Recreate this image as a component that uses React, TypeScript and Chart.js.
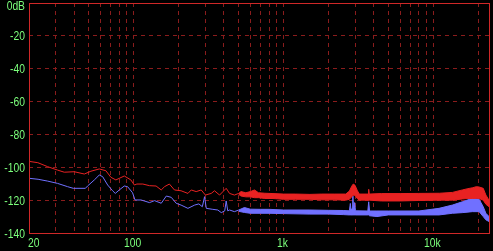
import React, { useEffect, useRef } from 'react';
import { Chart, registerables } from 'chart.js';

Chart.register(...registerables);

// ---- axis values ----
const xMin = 20;
const xMax = 23500;
const yMin = -140;
const yMax = 0;
const xGridValues = [30, 40, 50, 60, 70, 80, 90, 100, 200, 300, 400, 500, 600, 700, 800, 900, 1000, 2000, 3000, 4000, 5000, 6000, 7000, 8000, 9000, 10000, 20000];
const yTickValues = [0, -20, -40, -60, -80, -100, -120, -140];
const yTickLabels = ['0dB', '-20', '-40', '-60', '-80', '-100', '-120', '-140'];
const xLabelValues = [20, 100, 1000, 10000];
const xLabelTexts = ['20', '100', '1k', '10k'];

// ---- red trace: thin line part (Hz, dB) ----
const redLineFreq = [20, 22.9, 26.6, 31, 34.4, 40.1, 46.8, 51.8, 58.9, 65.2, 70.4, 76, 86.5, 95.7, 101, 105, 115, 127.5, 141, 152.6, 160.6, 173, 187, 207, 230, 242, 261, 282, 301, 329, 346, 374, 414, 436, 470, 502];
const redLine = [-96.4, -97.2, -99.6, -101.7, -103.0, -102.7, -104.1, -102.4, -101.0, -102.1, -106.1, -107.7, -105.3, -107.7, -110.8, -110.2, -110.2, -111.2, -111.4, -113.8, -111.8, -110.2, -113.8, -114.3, -115.9, -113.8, -114.8, -113.8, -116.9, -115.9, -114.3, -116.9, -112.8, -115.9, -116.9, -115.9];

// ---- red trace: dense noise band (Hz, upper dB, lower dB) ----
const redBandFreq = [502, 520, 560, 600, 640, 680, 750, 850, 1000, 1200, 1500, 1800, 2200, 2600, 2750, 2850, 2920, 3000, 3100, 3200, 3670, 3700, 3730, 4500, 6000, 8000, 11000, 13400, 15600, 17000, 18200, 19350, 20200, 21500, 22400, 23500];
const redBandHi = [-115.9, -114.8, -115.5, -114.8, -113.8, -115.5, -115.8, -116.0, -116.3, -116.3, -116.5, -116.3, -116.3, -116.3, -114.5, -111.5, -110.2, -111.0, -114.0, -116.3, -116.3, -113.4, -116.3, -116.0, -116.0, -115.9, -115.8, -115.3, -113.8, -113.0, -112.5, -111.8, -112.0, -112.8, -116.9, -120.0];
const redBandLo = [-116.5, -117.5, -118.0, -118.0, -118.5, -118.5, -119.0, -119.0, -119.5, -119.5, -119.5, -119.8, -119.8, -120.0, -119.5, -118.0, -117.0, -117.0, -119.0, -120.0, -120.0, -120.0, -120.0, -120.5, -120.5, -120.2, -120.0, -120.0, -119.3, -119.0, -119.0, -118.9, -119.0, -120.0, -122.5, -124.0];

// ---- blue trace: thin line part ----
const blueLineFreq = [20, 23, 26.6, 31, 36.2, 39.5, 47.6, 49.2, 54.6, 58.9, 62, 67, 72.3, 75.3, 80.1, 86.5, 91, 98.2, 102, 112, 127.5, 137.7, 152.6, 165, 178, 192, 207, 230, 255, 272, 287, 297, 305, 337, 364, 384, 405, 414, 424, 436, 470, 502];
const blueLine = [-106.7, -107.3, -108.4, -109.8, -111.8, -112.8, -112.8, -111.4, -107.7, -104.7, -105.7, -110.8, -114.3, -115.9, -113.8, -111.4, -111.8, -115.5, -119.9, -119.9, -121.5, -120.3, -121.9, -117.5, -118.3, -121.9, -123.0, -125.0, -123.0, -122.3, -124.0, -117.9, -125.0, -125.6, -126.0, -127.6, -126.5, -120.5, -126.5, -126.0, -127.0, -126.0];

// ---- blue trace: dense noise band ----
const blueBandFreq = [502, 548, 600, 700, 800, 1000, 1500, 2000, 2500, 2750, 2790, 2820, 2870, 2900, 2930, 2980, 3020, 3650, 3700, 3750, 4200, 5000, 8000, 10900, 13400, 15600, 18200, 20200, 21500, 22400, 23500];
const blueBandHi = [-126.0, -124.5, -125.5, -125.6, -125.6, -126.0, -126.0, -126.2, -126.3, -126.5, -122.0, -126.0, -125.0, -117.5, -125.0, -121.5, -126.5, -126.6, -121.0, -126.6, -126.6, -126.6, -126.6, -125.0, -123.0, -121.0, -118.9, -119.5, -124.0, -128.0, -130.0];
const blueBandLo = [-126.8, -127.5, -128.0, -128.0, -128.0, -128.2, -128.5, -128.5, -128.8, -129.0, -129.0, -129.0, -129.0, -129.0, -129.0, -129.0, -129.0, -129.0, -129.0, -129.5, -130.0, -129.0, -129.0, -129.0, -128.0, -127.6, -127.0, -127.0, -130.0, -132.0, -133.0];

// ---- styles ----
const RED = '#e82222';
const BLUE = '#7070ff';
const GRID = '#8a1c1c';
const FRAME = '#d02828';
const LABEL = '#7cff7c';
const FONT = '12px "Liberation Sans", Arial, sans-serif';
const TEXT_SQUEEZE = 0.86;

const pts = (xs: number[], ys: number[]) => xs.map((x, i) => ({ x, y: ys[i] }));

const drawText = (ctx: CanvasRenderingContext2D, text: string, x: number, y: number, align: CanvasTextAlign) => {
  ctx.save();
  ctx.translate(x, y);
  ctx.scale(TEXT_SQUEEZE, 1);
  ctx.textAlign = align;
  ctx.fillText(text, 0, 0);
  ctx.restore();
};

const frameLabelPlugin = {
  id: 'frameLabels',
  afterDraw(chart: any) {
    const { ctx, chartArea: a, scales } = chart;
    ctx.save();
    ctx.setLineDash([]);
    ctx.strokeStyle = FRAME;
    ctx.lineWidth = 1;
    ctx.strokeRect(a.left + 0.5, a.top + 0.5, a.right - a.left, a.bottom - a.top);
    ctx.font = FONT;
    ctx.fillStyle = LABEL;
    ctx.textBaseline = 'alphabetic';
    yTickValues.forEach((v, i) => {
      const py = scales.y.getPixelForValue(v);
      drawText(ctx, yTickLabels[i], a.left - 4, Math.max(py + 4.5, 10), 'right');
    });
    xLabelValues.forEach((v, i) => {
      const px = scales.x.getPixelForValue(v);
      if (i === 0) {
        drawText(ctx, xLabelTexts[i], px - 1, a.bottom + 14, 'left');
      } else {
        drawText(ctx, xLabelTexts[i], px - 1, a.bottom + 14, 'center');
      }
    });
    ctx.restore();
  },
};

export default function App() {
  const ref = useRef<HTMLCanvasElement | null>(null);
  useEffect(() => {
    if (!ref.current) return;
    const lineDs = (data: any, color: string, fill: any = false) => ({
      data,
      borderColor: color,
      backgroundColor: color,
      borderWidth: 1,
      pointRadius: 0,
      tension: 0,
      fill,
    });
    const chart = new Chart(ref.current, {
      type: 'line',
      data: {
        datasets: [
          lineDs(pts(redLineFreq, redLine), RED),
          lineDs(pts(redBandFreq, redBandHi), RED),
          lineDs(pts(redBandFreq, redBandLo), RED, '-1'),
          lineDs(pts(blueLineFreq, blueLine), BLUE),
          lineDs(pts(blueBandFreq, blueBandHi), BLUE),
          lineDs(pts(blueBandFreq, blueBandLo), BLUE, '-1'),
        ] as any,
      },
      options: {
        responsive: false,
        devicePixelRatio: 1,
        animation: false,
        events: [],
        layout: { padding: { left: 29, top: 3, right: 4, bottom: 18 } },
        plugins: { legend: { display: false }, tooltip: { enabled: false } },
        scales: {
          x: {
            type: 'logarithmic',
            min: xMin,
            max: xMax,
            ticks: { display: false },
            grid: { color: GRID, lineWidth: 1, drawTicks: false },
            border: { display: false, dash: [4, 4] },
            afterBuildTicks: (s: any) => {
              s.ticks = xGridValues.map((v) => ({ value: v }));
            },
            afterFit: (s: any) => {
              s.height = 0;
            },
          },
          y: {
            type: 'linear',
            min: yMin,
            max: yMax,
            ticks: { display: false },
            grid: { color: GRID, lineWidth: 1, drawTicks: false },
            border: { display: false, dash: [4, 4] },
            afterBuildTicks: (s: any) => {
              s.ticks = yTickValues.map((v) => ({ value: v }));
            },
            afterFit: (s: any) => {
              s.width = 0;
            },
          },
        },
      } as any,
      plugins: [frameLabelPlugin],
    });
    return () => chart.destroy();
  }, []);
  return (
    <div style={{ position: 'fixed', left: 0, top: 0, width: 493, height: 251, background: '#000' }}>
      <canvas ref={ref} width={493} height={251} style={{ display: 'block' }} />
    </div>
  );
}
